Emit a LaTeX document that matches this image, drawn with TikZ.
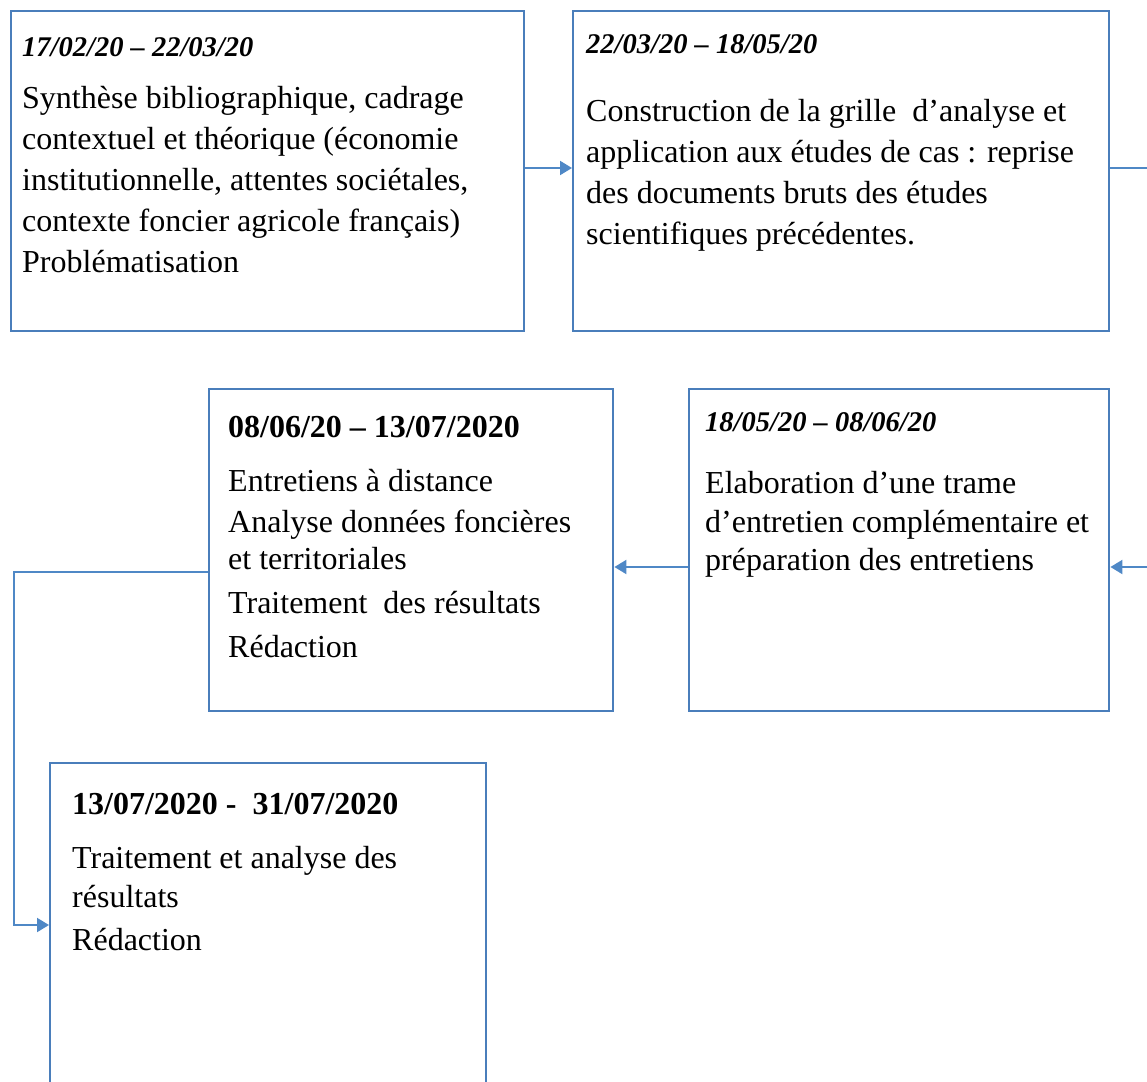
\documentclass[tikz,border=0pt]{standalone}
\usepackage{fontspec}
\setmainfont{Liberation Serif}
\usetikzlibrary{arrows.meta}
\definecolor{bordbleu}{RGB}{74,126,187}
\definecolor{flechebleu}{RGB}{79,136,198}
\newcommand{\corps}{\fontsize{32}{41}\selectfont}
\newcommand{\dateit}[1]{{\fontsize{28.5}{41}\selectfont\bfseries\itshape #1}}
\newcommand{\datebf}[1]{{\fontsize{32}{41}\selectfont\bfseries #1}}
\begin{document}
\begin{tikzpicture}[x=1pt,y=-1pt,line join=miter,>={Triangle[width=14pt,length=12pt]}]
    \tikzset{boite/.style={draw=bordbleu,line width=2.4pt,anchor=north west,inner sep=0pt},
             texte/.style={anchor=north west,inner sep=0pt,align=left,font=\corps},
             fleche/.style={draw=flechebleu,line width=2pt}}
    \useasboundingbox (0,0) rectangle (1147,1081);
    \clip (0,0) rectangle (1147,1081);
    % les cinq etapes
    \node[boite,minimum width=513pt,minimum height=320pt] (b1) at (10,10) {};
    \node[boite,minimum width=536pt,minimum height=320pt] (b2) at (572,10) {};
    \node[boite,minimum width=404pt,minimum height=322pt] (b3) at (208,388) {};
    \node[boite,minimum width=420pt,minimum height=322pt] (b4) at (688,388) {};
    \node[boite,minimum width=436pt,minimum height=360pt] (b5) at (49,762) {};
    % textes
    \node[texte] (t1) at (22,37) {\dateit{17/02/20 -- 22/03/20}\\[11pt]
        Synthèse bibliographique, cadrage\\
        contextuel et théorique (économie\\
        institutionnelle, attentes sociétales,\\
        contexte foncier agricole français)\\
        Problématisation};
    \node[texte] (t2) at (586,34) {\dateit{22/03/20 -- 18/05/20}\\[27pt]
        Construction de la grille\ \ d’analyse et\\
        application aux études de cas : reprise\\
        des documents bruts des études\\
        scientifiques précédentes.};
    \node[texte] (t3) at (228,416) {\datebf{08/06/20 -- 13/07/2020}\\[13pt]
        Entretiens à distance\\
        Analyse données foncières\\[-4pt]
        et territoriales\\[3pt]
        Traitement\ \ des résultats\\[3pt]
        Rédaction};
    \node[texte] (t4) at (705,412) {\dateit{18/05/20 -- 08/06/20}\\[21pt]
        Elaboration d’une trame\\[-2pt]
        d’entretien complémentaire et\\[-3pt]
        préparation des entretiens};
    \node[texte] (t5) at (72,793) {\datebf{13/07/2020 -\ \ 31/07/2020}\\[13pt]
        Traitement et analyse des\\[-2pt]
        résultats\\[2pt]
        Rédaction};
    % liaisons
    \coordinate (sortie) at (1147,168);
    \coordinate (entree) at (1147,567);
    \coordinate (coin1) at (14,572);
    \coordinate (coin2) at (14,925);
    \draw[fleche,->] (b1.east |- 0,168) -- (b2.west |- 0,168);
    \draw[fleche] (b2.east |- sortie) -- (sortie);
    \draw[fleche,->] (entree) -- (b4.east |- entree);
    \draw[fleche,->] (b4.west |- entree) -- (b3.east |- entree);
    \draw[fleche,->] (b3.west |- coin1) -- (coin1) -- (coin2) -- (b5.west |- coin2);
\end{tikzpicture}
\end{document}
